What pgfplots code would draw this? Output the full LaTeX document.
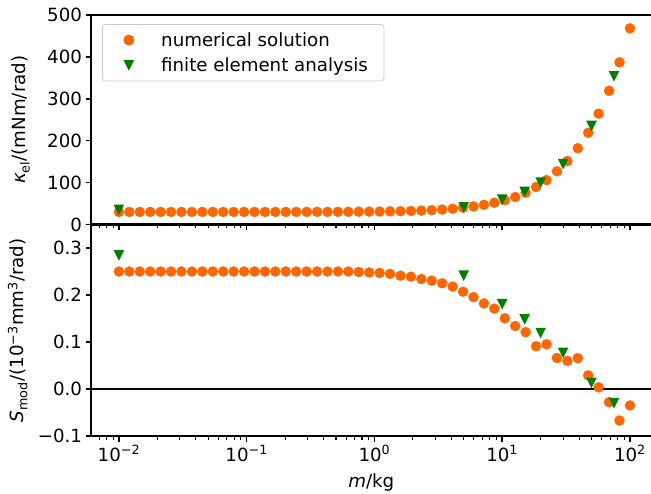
\documentclass[border=0pt]{standalone}
\usepackage{fontspec}
\setmainfont{DejaVu Sans}
\usepackage{pgfplots}
\usepackage{pgfplotstable}
\pgfplotsset{compat=1.18}
\definecolor{numorange}{RGB}{255,102,0}
\definecolor{fegreen}{RGB}{0,128,0}
\definecolor{legframe}{RGB}{204,204,204}
\pgfdeclareplotmark{vtri}{%
  \pgfpathmoveto{\pgfqpoint{0pt}{-\pgfplotmarksize}}%
  \pgfpathlineto{\pgfqpoint{\pgfplotmarksize}{\pgfplotmarksize}}%
  \pgfpathlineto{\pgfqpoint{-\pgfplotmarksize}{\pgfplotmarksize}}%
  \pgfpathclose
  \pgfusepathqfill
}

\pgfplotstableread{
m kel
0.010000 30.0
0.012068 30.0
0.014563 30.0
0.017575 30.0
0.021210 30.0
0.025595 30.0
0.030888 30.0
0.037276 30.0
0.044984 30.0
0.054287 30.0
0.065513 30.0
0.079060 30.0
0.095410 30.0
0.11514 30.0
0.13895 30.0
0.16768 30.0
0.20236 30.0
0.24421 30.1
0.29471 30.1
0.35565 30.2
0.42919 30.2
0.51795 30.3
0.62506 30.4
0.75431 30.6
0.91030 30.8
1.0985 31.0
1.3257 31.4
1.5999 31.8
1.9307 32.4
2.3300 33.2
2.8118 34.2
3.3932 35.6
4.0949 37.5
4.9417 40.0
5.9636 43.0
7.1969 47.0
8.6851 52.0
10.481 58.0
12.649 65.5
15.264 76.0
18.421 89.5
22.230 106.0
26.827 127.0
32.375 151.5
39.069 182.0
47.149 219.0
56.899 264.5
68.665 319.0
82.864 387.0
100.00 468.0
}\numkel

\pgfplotstableread{
m kel
0.01 35.0
5 41.0
10 59.0
15 77.5
20 100.0
30 144.0
50 235.0
75 353.6
}\fekel

\pgfplotstableread{
m smod
0.010000 0.250
0.012068 0.250
0.014563 0.250
0.017575 0.250
0.021210 0.250
0.025595 0.250
0.030888 0.250
0.037276 0.250
0.044984 0.250
0.054287 0.250
0.065513 0.250
0.079060 0.250
0.095410 0.250
0.11514 0.250
0.13895 0.250
0.16768 0.250
0.20236 0.250
0.24421 0.250
0.29471 0.250
0.35565 0.250
0.42919 0.250
0.51795 0.250
0.62506 0.250
0.75431 0.249
0.91030 0.248
1.0985 0.247
1.3257 0.245
1.5999 0.241
1.9307 0.239
2.3300 0.234
2.8118 0.2305
3.3932 0.225
4.0949 0.218
4.9417 0.207
5.9636 0.1955
7.1969 0.182
8.6851 0.171
10.481 0.1505
12.649 0.134
15.264 0.121
18.421 0.091
22.230 0.095
26.827 0.066
32.375 0.060
39.069 0.0656
47.149 0.029
56.899 0.0035
68.665 -0.028
82.864 -0.067
100.00 -0.035
}\numsmod

\pgfplotstableread{
m smod
0.01 0.284
5 0.241
10 0.1805
15 0.148
20 0.119
30 0.077
50 0.0128
75 -0.030
}\fesmod

\newcommand{\labfont}{\fontsize{18.2}{22}\selectfont}

\pgfplotsset{
  myaxis/.style={
    scale only axis, width=559.5pt,
    xmin=0.0061, xmax=146.2,
    axis x line*=box, axis y line*=left,
    xtick pos=left, ytick pos=left,
    tick align=outside,
    major tick length=6pt, minor tick length=3.5pt,
    major tick style={line width=1.5pt, black},
    minor tick style={line width=1.1pt, black},
    axis line style={line width=2pt, black},
    xtick={0.01,0.1,1,10,100},
    minor xtick={0.007,0.008,0.009,0.02,0.03,0.04,0.05,0.06,0.07,0.08,0.09,0.2,0.3,0.4,0.5,0.6,0.7,0.8,0.9,2,3,4,5,6,7,8,9,20,30,40,50,60,70,80,90},
    tick label style={font=\labfont},
    label style={font=\labfont},
  }
}

\begin{document}
\begin{tikzpicture}
\begin{semilogxaxis}[myaxis, at={(91.5pt,268.5pt)}, anchor=south west, height=209.5pt,
  ymin=0, ymax=500, ytick={0,100,200,300,400,500},
  yticklabels={0,100,200,300,400,500},
  xticklabels={},
  ylabel={\textit{κ}\textsubscript{el}/(mNm/rad)},
  ylabel style={at={(axis description cs:-0.126,0.5)}, anchor=center},
  legend cell align=left,
  legend image code/.code={\path (0pt,0pt) (42pt,0pt); \draw[mark repeat=2,mark phase=2,#1] plot coordinates {(0pt,0pt) (10pt,0pt) (42pt,0pt)};},
  legend style={at={(0.0188,0.957)}, anchor=north west, draw=legframe, line width=0.8pt,
    rounded corners=3pt, fill=white, font=\labfont, inner xsep=16pt, inner ysep=8pt,
    row sep=10pt, nodes={inner sep=0pt}},
]
\addplot[only marks, mark=*, mark size=5pt, color=numorange] table[x=m, y=kel] {\numkel};
\addplot[only marks, mark=vtri, mark size=5.3pt, color=fegreen] table[x=m, y=kel] {\fekel};
\legend{numerical solution, finite element analysis}
\end{semilogxaxis}
\begin{semilogxaxis}[myaxis, at={(91.5pt,57pt)}, anchor=south west, height=211.5pt,
  ymin=-0.1, ymax=0.35, ytick={-0.1,0,0.1,0.2,0.3},
  yticklabels={−0.1,0.0,0.1,0.2,0.3},
  xticklabels={10\textsuperscript{−2},10\textsuperscript{−1},10\textsuperscript{0},10\textsuperscript{1},10\textsuperscript{2}},
  xlabel={\textit{m}/kg},
  xlabel style={at={(axis description cs:0.5,-0.222)}, anchor=center},
  ylabel={\textit{S}\textsubscript{mod}/(10\textsuperscript{−3}mm\textsuperscript{3}/rad)},
  ylabel style={at={(axis description cs:-0.132,0.5)}, anchor=center},
]
\addplot[black, line width=2.8pt, forget plot] coordinates {(0.0061,0) (146.2,0)};
\addplot[only marks, mark=*, mark size=5pt, color=numorange] table[x=m, y=smod] {\numsmod};
\addplot[only marks, mark=vtri, mark size=5.3pt, color=fegreen] table[x=m, y=smod] {\fesmod};
\end{semilogxaxis}
\pgfresetboundingbox
\path[use as bounding box] (0,0) rectangle (651pt,493pt);
\end{tikzpicture}
\end{document}
